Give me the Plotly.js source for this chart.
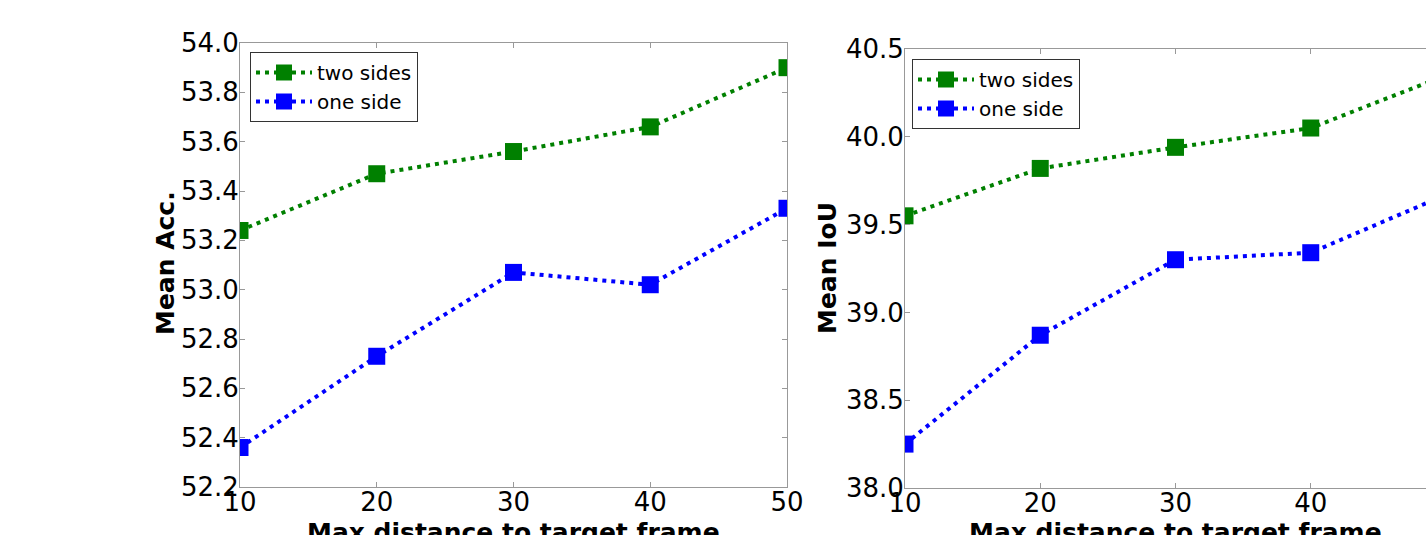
<!DOCTYPE html>
<html>
<head>
<meta charset="utf-8">
<script src="https://cdn.plot.ly/plotly-3.0.1.min.js"></script>
<style>
html,body{margin:0;padding:0;overflow:hidden;background:#fff;width:1426px;height:535px;}
#chart{width:1460px;height:535px;}
</style>
</head>
<body>
<div id="chart"></div>
<script>
// Data
const distances = [10, 20, 30, 40, 50];
const accTwoSides = [53.24, 53.47, 53.56, 53.66, 53.90];
const accOneSide  = [52.36, 52.73, 53.07, 53.02, 53.33];
const iouTwoSides = [39.55, 39.82, 39.94, 40.05, 40.35];
const iouOneSide  = [38.25, 38.87, 39.30, 39.34, 39.67];
const seriesNames = ['two sides', 'one side'];
const accTicks = [52.2, 52.4, 52.6, 52.8, 53.0, 53.2, 53.4, 53.6, 53.8, 54.0];
const iouTicks = [38.0, 38.5, 39.0, 39.5, 40.0, 40.5];
const xTitle = 'Max distance to target frame';
const yTitles = ['Mean Acc.', 'Mean IoU'];

const W = 1460, H = 535;
const GREEN = '#008000', BLUE = '#0000ff';
const FONT = 'DejaVu Sans, sans-serif';

function tr(x, y, name, color, xa, ya, leg) {
  return {
    x: x, y: y, name: name, type: 'scatter', mode: 'lines+markers',
    xaxis: xa, yaxis: ya, legend: leg,
    line: {color: color, width: 4, dash: '4px,5px'},
    marker: {symbol: 'square', size: 17, color: color, line: {color: color, width: 0}},
    cliponaxis: true
  };
}

const data = [
  tr(distances, accTwoSides, seriesNames[0], GREEN, 'x', 'y', 'legend'),
  tr(distances, accOneSide, seriesNames[1], BLUE, 'x', 'y', 'legend'),
  tr(distances, iouTwoSides, seriesNames[0], GREEN, 'x2', 'y2', 'legend2'),
  tr(distances, iouOneSide, seriesNames[1], BLUE, 'x2', 'y2', 'legend2')
];

const axCommon = {
  showgrid: false, zeroline: false, showline: true, linecolor: '#999', linewidth: 1,
  mirror: 'ticks', ticks: 'inside', ticklen: 5, tickcolor: '#999', tickwidth: 1,
  tickfont: {family: FONT, size: 26, color: '#000'}, fixedrange: true
};

function px(x){ return x / W; }
function py(y){ return (H - y) / H; }

const layout = {
  width: W, height: H,
  margin: {l: 0, r: 0, t: 0, b: 0},
  paper_bgcolor: '#fff', plot_bgcolor: '#fff',
  font: {family: FONT, color: '#000'},
  xaxis: Object.assign({}, axCommon, {domain: [px(240), px(787)], range: [10, 50], tickvals: distances, anchor: 'y', ticklabelstandoff: -8}),
  yaxis: Object.assign({}, axCommon, {domain: [py(487), py(43)], range: [52.2, 54.0], tickvals: accTicks, ticktext: accTicks.map(v => v.toFixed(1)), anchor: 'x', ticklabelstandoff: -5}),
  xaxis2: Object.assign({}, axCommon, {domain: [px(905), px(1446)], range: [10, 50], tickvals: distances, anchor: 'y2', ticklabelstandoff: -8}),
  yaxis2: Object.assign({}, axCommon, {domain: [py(488), py(49)], range: [38.0, 40.5], tickvals: iouTicks, ticktext: iouTicks.map(v => v.toFixed(1)), anchor: 'x2', ticklabelstandoff: -5}),
  legend: {
    x: px(250), y: py(52), xanchor: 'left', yanchor: 'top',
    bgcolor: '#fff', bordercolor: '#333', borderwidth: 1,
    font: {family: FONT, size: 20, color: '#000'}, itemwidth: 56, tracegroupgap: 0
  },
  legend2: {
    x: px(912), y: py(59), xanchor: 'left', yanchor: 'top',
    bgcolor: '#fff', bordercolor: '#333', borderwidth: 1,
    font: {family: FONT, size: 20, color: '#000'}, itemwidth: 56, tracegroupgap: 0
  },
  annotations: [
    {text: '<b>' + xTitle + '</b>', xref: 'paper', yref: 'paper', x: px(513.5), y: py(516), xanchor: 'center', yanchor: 'top', showarrow: false, font: {family: FONT, size: 25, color: '#000'}},
    {text: '<b>' + xTitle + '</b>', xref: 'paper', yref: 'paper', x: px(1175.5), y: py(516), xanchor: 'center', yanchor: 'top', showarrow: false, font: {family: FONT, size: 25, color: '#000'}},
    {text: '<b>' + yTitles[0] + '</b>', xref: 'paper', yref: 'paper', x: px(165), y: py(263), xanchor: 'center', yanchor: 'middle', textangle: -90, showarrow: false, font: {family: FONT, size: 25, color: '#000'}},
    {text: '<b>' + yTitles[1] + '</b>', xref: 'paper', yref: 'paper', x: px(827), y: py(268), xanchor: 'center', yanchor: 'middle', textangle: -90, showarrow: false, font: {family: FONT, size: 25, color: '#000'}}
  ]
};

Plotly.newPlot('chart', data, layout, {displayModeBar: false, staticPlot: true});
</script>
</body>
</html>
